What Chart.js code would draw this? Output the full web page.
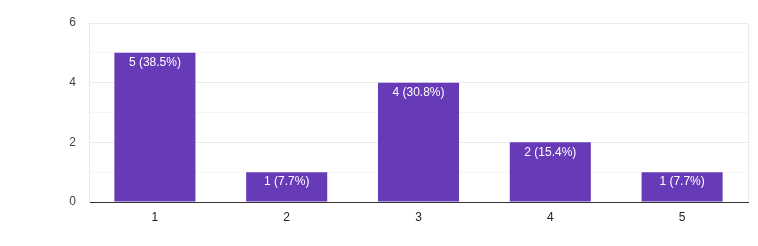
<!DOCTYPE html>
<html>
<head>
<meta charset="utf-8">
<script src="https://cdn.jsdelivr.net/npm/chart.js@4"></script>
<style>
  html, body { margin: 0; padding: 0; background: #fff; }
  #wrap { width: 758px; height: 246px; }
</style>
</head>
<body>
<div id="wrap"><canvas id="myChart" width="758" height="246"></canvas></div>
<script>
var categories = ["1", "2", "3", "4", "5"];
var counts = [5, 1, 4, 2, 1];
var percents = ["38.5%", "7.7%", "30.8%", "15.4%", "7.7%"];

// labels inside the top of each bar: "5 (38.5%)"
var barLabels = {
    id: "barLabels",
    afterDatasetsDraw: function(chart){
        let ctx = chart.ctx;
        let meta = chart.getDatasetMeta(0);
        ctx.save();
        ctx.fillStyle = "#ffffff";
        ctx.font = "12px 'Liberation Sans', Arial, sans-serif";
        ctx.textAlign = "center";
        ctx.textBaseline = "top";
        meta.data.forEach(function(bar, i){
            ctx.fillText(counts[i] + " (" + percents[i] + ")", bar.x, bar.y + 4);
        });
        ctx.restore();
    }
};

// thin frame line on the right edge of the plot
var rightEdge = {
    id: "rightEdge",
    beforeDatasetsDraw: function(chart){
        let a = chart.chartArea;
        let ctx = chart.ctx;
        ctx.save();
        ctx.strokeStyle = "#ebebeb";
        ctx.lineWidth = 1;
        ctx.beginPath();
        ctx.moveTo(Math.round(a.right) + 0.5, a.top);
        ctx.lineTo(Math.round(a.right) + 0.5, a.bottom);
        ctx.stroke();
        ctx.restore();
    }
};

const ctx = document.getElementById("myChart").getContext("2d");
var myChart = new Chart(ctx, {
    type: "bar",
    data: {
        labels: categories,
        datasets: [{
            data: counts,
            backgroundColor: "#673ab7",
            borderWidth: 0,
            categoryPercentage: 0.615,
            barPercentage: 1
        }]
    },
    options: {
        responsive: false,
        animation: false,
        layout: { padding: { left: 0, right: 10, top: 23, bottom: 0 } },
        plugins: {
            legend: { display: false },
            tooltip: { enabled: false }
        },
        scales: {
            x: {
                grid: { display: false },
                border: { display: true, color: "#333333", width: 1 },
                ticks: {
                    color: "#222222",
                    padding: 0,
                    font: { family: "'Liberation Sans', Arial, sans-serif", size: 12 }
                },
                afterFit: function(scale){ scale.height = 44; }
            },
            y: {
                min: 0,
                max: 6,
                grid: {
                    drawTicks: false,
                    color: function(c){
                        return (c.tick && c.tick.value % 2 === 0) ? "#ebebeb" : "#f5f5f5";
                    }
                },
                border: { display: true, color: "#ebebeb" },
                ticks: {
                    stepSize: 1,
                    padding: 13,
                    color: "#444444",
                    font: { family: "'Liberation Sans', Arial, sans-serif", size: 12 },
                    callback: function(v){ return v % 2 === 0 ? v : ""; }
                },
                afterFit: function(scale){ scale.width = 89; }
            }
        }
    },
    plugins: [barLabels, rightEdge]
});
</script>
</body>
</html>
